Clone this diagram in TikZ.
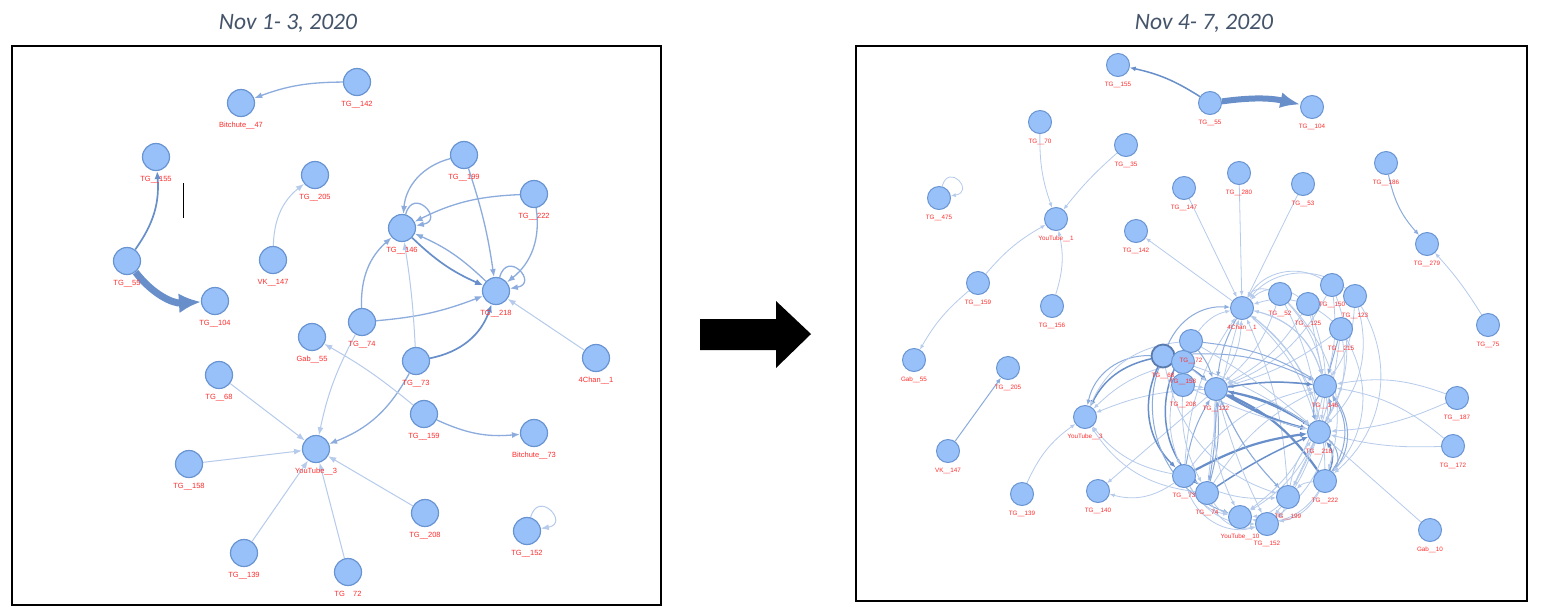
\documentclass[tikz,border=0pt]{standalone}
\usepackage{fontspec}
\setmainfont{Liberation Sans}
\newfontfamily\ttlfont{Carlito}
\usetikzlibrary{arrows.meta}
\pgfdeclarelayer{bg}\pgfdeclarelayer{fg}\pgfsetlayers{bg,main,fg}
\definecolor{nfill}{RGB}{152,193,249}
\definecolor{nline}{RGB}{105,148,210}
\definecolor{lblred}{RGB}{255,45,45}
\definecolor{eA}{RGB}{182,203,235}
\definecolor{eB}{RGB}{140,172,221}
\definecolor{eC}{RGB}{104,143,202}
\definecolor{ttlc}{RGB}{68,84,106}
\tikzset{
 gl/.style={circle,inner sep=0pt,minimum size=27pt,fill=nfill,draw=nline,line width=1.2pt},
 gr/.style={circle,inner sep=0pt,minimum size=23pt,fill=nfill,draw=nline,line width=1pt},
 lblL/.style={text=lblred,font=\fontsize{7.5}{8}\selectfont,inner sep=0pt},
 lblR/.style={text=lblred,font=\fontsize{6.3}{7}\selectfont,inner sep=0pt},
 ttl/.style={text=ttlc,font=\ttlfont\itshape\fontsize{23.5}{27}\selectfont,anchor=base,inner sep=0pt},
 la/.style={eA,line width=1pt,-{Latex[length=8pt,width=6pt]}},
 lb/.style={eB,line width=1.3pt,-{Latex[length=8pt,width=6pt]}},
 lc/.style={eC,line width=1.7pt,-{Latex[length=8pt,width=6.5pt]}},
 r1/.style={eA,line width=0.8pt,-{Latex[length=5pt,width=4pt]}},
 r2/.style={eB,line width=1pt,-{Latex[length=5.5pt,width=4.5pt]}},
 r3/.style={eC,line width=1.5pt,-{Latex[length=6pt,width=5pt]}},
 r4/.style={eC,line width=2.2pt,-{Latex[length=7pt,width=6pt]}},
 frame/.style={draw=black,line width=2pt},
}
\newcommand\lnd[4]{\node[gl] (#1) at (#2,#3) {};\begin{pgfonlayer}{fg}\node[lblL] (#1t) at (#2,#3+22.5) {#4};\end{pgfonlayer}}
\newcommand\rnd[4]{\node[gr] (#1) at (#2,#3) {};\begin{pgfonlayer}{fg}\node[lblR] (#1t) at (#2,#3+19.5) {#4};\end{pgfonlayer}}
\begin{document}
\begin{tikzpicture}[x=1pt,y=-1pt]
\begin{pgfonlayer}{bg}\fill[white] (0,0) rectangle (1546,614);\end{pgfonlayer}
\useasboundingbox (0,0) rectangle (1546,614);
% titles
\node[ttl] (t1) at (288,29) {Nov 1- 3, 2020};
\node[ttl] (t2) at (1204,29) {Nov 4- 7, 2020};
% frames
\draw[frame] (12,46) rectangle (661,605);
\draw[frame] (856,46) rectangle (1527,601);
% big arrow
\fill[black] (700,319) -- (776,319) -- (776,301) -- (811,334) -- (776,368) -- (776,350) -- (700,350) -- cycle;
% cursor mark
\draw[black,line width=0.9pt] (183,183) -- (183,218);

% ---------------- left panel nodes
\lnd{lB47}{241}{103}{Bitchute\_\_47}
\lnd{lTG142}{357}{82}{TG\_\_142}
\lnd{lTG155}{156}{157}{TG\_\_155}
\lnd{lTG205}{315}{175}{TG\_\_205}
\lnd{lTG55}{127}{261}{TG\_\_55}
\lnd{lTG104}{215}{301}{TG\_\_104}
\lnd{lVK147}{273}{260}{VK\_\_147}
\lnd{lTG199}{464}{155}{TG\_\_199}
\lnd{lTG222}{534}{194}{TG\_\_222}
\lnd{lTG146}{402}{228}{TG\_\_146}
\lnd{lTG218}{496}{291}{TG\_\_218}
\lnd{lTG74}{362}{322}{TG\_\_74}
\lnd{lGab55}{312}{337}{Gab\_\_55}
\lnd{lTG73}{416}{361}{TG\_\_73}
\lnd{l4Chan}{596}{358}{4Chan\_\_1}
\lnd{lTG68}{219}{375}{TG\_\_68}
\lnd{lTG159}{424}{414}{TG\_\_159}
\lnd{lB73}{534}{433}{Bitchute\_\_73}
\lnd{lYT3}{316}{449}{YouTube\_\_3}
\lnd{lTG158}{189}{464}{TG\_\_158}
\lnd{lTG208}{425}{513}{TG\_\_208}
\lnd{lTG152}{527}{531}{TG\_\_152}
\lnd{lTG139}{244}{553}{TG\_\_139}
\node[gl] (lTG72) at (348,572) {};
\begin{pgfonlayer}{fg}\begin{scope}\clip (13,560) rectangle (660,596.5);\node[lblL] (lTG72t) at (348,595) {TG\_\_72};\end{scope}\end{pgfonlayer}

% ---------------- left panel edges
\begin{pgfonlayer}{bg}
\draw[lb] (lTG142) to[bend right=10] (lB47);
\draw[lc] (lTG55) to[bend right=20] (lTG155);
\draw[eC,line width=7pt,-{Latex[length=22pt,width=20pt]}] (lTG55) to[bend right=28] (lTG104);
\draw[la] (lVK147) to[bend left=25] (lTG205);
\draw[lb] (lTG199) to[bend right=35] (lTG146);
\draw[lb] (lTG199) to[bend left=5] (lTG218);
\draw[lb] (lTG222) to[bend right=12] (lTG146);
\draw[lb] (lTG222) to[bend left=30] (lTG218);
\draw[lc] (lTG146) to[bend right=10] (lTG218);
\draw[lb] (lTG218) to[bend right=10] (lTG146);
\draw[lb] (lTG146) to[out=75,in=10,looseness=5] (lTG146);
\draw[lb] (lTG218) to[out=75,in=10,looseness=5] (lTG218);
\draw[lb] (lTG74) to[bend left=25] (lTG146);
\draw[lb] (lTG74) to[bend right=8] (lTG218);
\draw[la] (lTG73) to[bend right=3] (lTG146);
\draw[lc] (lTG73) to[bend right=30] (lTG218);
\draw[lb] (lTG73) to[bend left=20] (lYT3);
\draw[la] (lTG159) to[bend right=5] (lGab55);
\draw[la] (lTG74) to[bend right=8] (lYT3);
\draw[lb] (lTG159) to[bend right=15] (lB73);
\draw[la] (l4Chan) -- (lTG218);
\draw[la] (lTG68) -- (lYT3);
\draw[la] (lTG158) -- (lYT3);
\draw[la] (lTG139) -- (lYT3);
\draw[la] (lTG72) -- (lYT3);
\draw[la] (lTG208) -- (lYT3);
\draw[la] (lTG152) to[out=75,in=10,looseness=5] (lTG152);
\end{pgfonlayer}

% ---------------- right panel nodes
\rnd{rTG155}{1118}{65}{TG\_\_155}
\rnd{rTG70}{1040}{122}{TG\_\_70}
\rnd{rTG35}{1126}{145}{TG\_\_35}
\rnd{rTG475}{939}{198}{TG\_\_475}
\rnd{rYT1}{1056}{219}{YouTube\_\_1}
\rnd{rTG142}{1136}{231}{TG\_\_142}
\rnd{rTG147}{1184}{188}{TG\_\_147}
\rnd{rTG280}{1239}{173}{TG\_\_280}
\rnd{rTG53}{1303}{184}{TG\_\_53}
\rnd{rTG186}{1386}{163}{TG\_\_186}
\rnd{rTG279}{1427}{244}{TG\_\_279}
\rnd{rTG55}{1210}{103}{TG\_\_55}
\rnd{rTG104}{1312}{107}{TG\_\_104}
\rnd{rTG159}{978}{283}{TG\_\_159}
\rnd{rTG156}{1052}{306}{TG\_\_156}
\rnd{rGab55}{914}{360}{Gab\_\_55}
\rnd{rTG205}{1008}{368}{TG\_\_205}
\rnd{rVK147}{948}{451}{VK\_\_147}
\rnd{rTG139}{1022}{494}{TG\_\_139}
\rnd{rYT3}{1085}{417}{YouTube\_\_3}
\rnd{rTG140}{1098}{491}{TG\_\_140}
\rnd{r4Chan}{1242}{308}{4Chan\_\_1}
\rnd{rTG52}{1280}{294}{TG\_\_52}
\rnd{rTG125}{1308}{304}{TG\_\_125}
\rnd{rTG150}{1332}{285}{TG\_\_150}
\rnd{rTG123}{1355}{296}{TG\_\_123}
\rnd{rTG215}{1341}{329}{TG\_\_215}
\rnd{rTG146}{1325}{386}{TG\_\_146}
\rnd{rTG122}{1216}{389}{TG\_\_122}
\rnd{rTG72}{1191}{341}{TG\_\_72}
\node[gr,draw=eC!85!black,line width=1.8pt] (rTG68) at (1163,356) {};
\begin{pgfonlayer}{fg}\node[lblR] (rTG68t) at (1163,376) {TG\_\_68};\end{pgfonlayer}
\rnd{rTG158}{1183}{362}{TG\_\_158}
\rnd{rTG208}{1183}{385}{TG\_\_208}
\rnd{rTG218}{1319}{432}{TG\_\_218}
\rnd{rTG222}{1325}{481}{TG\_\_222}
\rnd{rTG73}{1184}{476}{TG\_\_73}
\rnd{rTG74}{1207}{493}{TG\_\_74}
\rnd{rTG199}{1288}{497}{TG\_\_199}
\rnd{rYT10}{1240}{517}{YouTube\_\_10}
\rnd{rTG152}{1267}{524}{TG\_\_152}
\rnd{rTG75}{1488}{325}{TG\_\_75}
\rnd{rTG187}{1457}{398}{TG\_\_187}
\rnd{rTG172}{1453}{446}{TG\_\_172}
\rnd{rGab10}{1430}{530}{Gab\_\_10}

% ---------------- right panel edges
\begin{pgfonlayer}{bg}
\draw[r3] (rTG55) to[bend right=10] (rTG155);
\draw[eC,line width=6pt,-{Latex[length=20pt,width=16pt]}] (rTG55) to[bend left=10] (rTG104);
\draw[r1] (rTG70) to[bend right=10] (rYT1);
\draw[r1] (rTG35) to[bend right=5] (rYT1);
\draw[r1] (rTG159) to[bend left=10] (rYT1);
\draw[r1] (rTG156) to[bend right=15] (rYT1);
\draw[r1] (rTG159) to[bend right=10] (rGab55);
\draw[r2] (rVK147) -- (rTG205);
\draw[r1] (rTG139) to[bend left=15] (rYT3);
\draw[r2] (rTG186) to[bend right=15] (rTG279);
\draw[r1] (rTG75) to[bend right=5] (rTG279);
\draw[r1] (rTG475) to[out=75,in=10,looseness=5] (rTG475);
\draw[r1] (rTG187) to[bend right=15] (rTG146);
\draw[r1] (rTG187) to[bend left=10] (rTG218);
\draw[r1] (rTG172) to[bend right=15] (rTG146);
\draw[r1] (rTG172) to[bend left=8] (rTG218);
\draw[r1] (rGab10) -- (rTG218);
\draw[r1] (rTG147) -- (r4Chan);
\draw[r1] (rTG280) -- (r4Chan);
\draw[r1] (rTG53) -- (r4Chan);
\draw[r1] (r4Chan) -- (rTG142);
% to YouTube_3 and TG_140
\draw[r3] (rTG68) to[bend right=25] (rYT3);
\draw[r2] (rTG68) to[bend right=40] (rYT3);
\draw[r1] (rTG72) to[bend right=30] (rYT3);
\draw[r1] (rTG158) to[bend right=15] (rYT3);
\draw[r1] (rTG122) to[bend right=10] (rYT3);
\draw[r1] (rTG73) to[bend left=20] (rYT3);
\draw[r1] (rTG74) to[bend left=25] (rYT3);
\draw[r1] (rTG122) -- (rTG140);
\draw[r1] (rTG73) to[bend left=25] (rTG140);
% to 4Chan
\draw[r1] (rTG52) to[bend right=40] (r4Chan);
\draw[r1] (rTG125) to[bend right=40] (r4Chan);
\draw[r1] (rTG150) to[bend right=45] (r4Chan);
\draw[r1] (rTG123) to[bend right=45] (r4Chan);
\draw[r1] (rTG215) to[bend right=30] (r4Chan);
\draw[r1] (rTG146) to[bend right=30] (r4Chan);
\draw[r1] (rTG218) to[bend right=20] (r4Chan);
\draw[r1] (rTG122) to[bend right=15] (r4Chan);
\draw[r2] (rTG68) to[bend left=35] (r4Chan);
\draw[r1] (rTG72) to[bend left=20] (r4Chan);
\draw[r1] (rTG73) to[bend left=15] (r4Chan);
\draw[r1] (rTG222) to[bend right=25] (r4Chan);
\draw[r1] (rTG199) to[bend right=10] (r4Chan);
\draw[r1] (rTG74) to[bend left=5] (r4Chan);
\draw[r2] (r4Chan) to[bend right=10] (rTG122);
\draw[r1] (r4Chan) to[bend left=30] (rTG146);
\draw[r1] (r4Chan) to[bend left=15] (rTG218);
% to TG_122
\draw[r3] (rTG68) to[bend left=10] (rTG122);
\draw[r2] (rTG72) to[bend left=10] (rTG122);
\draw[r1] (rTG158) -- (rTG122);
\draw[r1] (rTG208) -- (rTG122);
\draw[r3] (rTG218) to[bend right=10] (rTG122);
\draw[r4] (rTG222) to[bend right=15] (rTG122);
\draw[r2] (rTG146) to[bend right=8] (rTG122);
\draw[r2] (rTG73) to[bend left=10] (rTG122);
\draw[r2] (rTG74) to[bend right=10] (rTG122);
\draw[r1] (rTG199) to[bend left=10] (rTG122);
\draw[r1] (rTG52) to[bend left=15] (rTG122);
\draw[r1] (rTG215) to[bend left=10] (rTG122);
\draw[r1] (rTG150) to[bend left=20] (rTG122);
\draw[r1] (rTG125) to[bend left=15] (rTG122);
% to TG_146
\draw[r1] (rTG52) to[bend left=15] (rTG146);
\draw[r1] (rTG125) -- (rTG146);
\draw[r1] (rTG150) to[bend left=10] (rTG146);
\draw[r1] (rTG123) to[bend left=15] (rTG146);
\draw[r2] (rTG215) -- (rTG146);
\draw[r3] (rTG122) to[bend left=8] (rTG146);
\draw[r2] (rTG72) to[bend left=12] (rTG146);
\draw[r2] (rTG68) to[bend left=15] (rTG146);
\draw[r2] (rTG218) to[bend right=25] (rTG146);
\draw[r2] (rTG222) to[bend right=35] (rTG146);
\draw[r1] (rTG73) to[bend left=20] (rTG146);
\draw[r1] (rTG74) to[bend left=15] (rTG146);
% to TG_218
\draw[r2] (rTG146) to[bend right=25] (rTG218);
\draw[r4] (rTG122) to[bend right=8] (rTG218);
\draw[r3] (rTG122) to[bend left=12] (rTG218);
\draw[r4] (rTG73) to[bend left=10] (rTG218);
\draw[r3] (rTG74) to[bend left=5] (rTG218);
\draw[r3] (rTG222) to[bend right=30] (rTG218);
\draw[r1] (rTG199) to[bend left=15] (rTG218);
\draw[r1] (rTG215) to[bend left=20] (rTG218);
\draw[r1] (rTG123) to[bend left=30] (rTG218);
\draw[r1] (rTG68) to[bend left=8] (rTG218);
\draw[r1] (rTG208) to[bend right=5] (rTG218);
\draw[r1] (rTG72) to[bend left=5] (rTG218);
\draw[r1] (rTG52) to[bend left=10] (rTG218);
\draw[r1] (rTG125) to[bend left=15] (rTG218);
\draw[r1] (rTG150) to[bend left=25] (rTG218);
\draw[r2] (rTG146) to[bend left=40] (rTG222);
\draw[r2] (rTG218) to[bend left=45] (rTG222);
\draw[r1] (rTG52) to[bend left=30] (rTG222);
\draw[r1] (rTG215) to[bend left=35] (rTG222);
\draw[r1] (rTG123) to[bend left=40] (rTG222);
% left-side arcs and lower nodes
\draw[r3] (rTG68) to[bend right=35] (rTG73);
\draw[r3] (rTG72) to[bend right=40] (rTG74);
\draw[r2] (rTG68) to[bend right=45] (rYT10);
\draw[r1] (rTG158) to[bend right=20] (rTG73);
\draw[r1] (rTG208) to[bend right=15] (rTG74);
\draw[r1] (rTG68) to[bend right=30] (rTG199);
\draw[r2] (rTG122) to[bend left=5] (rTG74);
\draw[r2] (rTG122) to[bend right=10] (rTG199);
\draw[r1] (rTG73) to[bend right=15] (rTG199);
\draw[r1] (rTG218) -- (rTG199);
\draw[r1] (rTG222) to[bend right=20] (rTG199);
\draw[r1] (rTG215) to[bend left=10] (rTG199);
\draw[r1] (rTG73) to[bend right=25] (rYT10);
\draw[r1] (rTG74) to[bend right=20] (rYT10);
\draw[r1] (rTG122) to[bend right=15] (rYT10);
\draw[r1] (rTG199) to[bend left=20] (rYT10);
\draw[r1] (rTG218) to[bend left=15] (rYT10);
\draw[r1] (rTG146) to[bend left=20] (rYT10);
\draw[r1] (rTG222) to[bend left=35] (rYT10);
\draw[r1] (rTG222) to[bend left=25] (rTG152);
\draw[r1] (rTG218) to[bend left=10] (rTG152);
\draw[r1] (rTG199) to[bend left=20] (rTG152);
\draw[r1] (rTG73) to[bend right=30] (rTG152);
\draw[r1] (rTG73) to[bend right=45] (rTG152);
\draw[r1] (rTG74) to[bend right=40] (rTG152);
\draw[r1] (rTG122) to[bend right=5] (rTG152);
\draw[r1] (rTG146) to[bend left=30] (rTG152);
\end{pgfonlayer}
\end{tikzpicture}
\end{document}
